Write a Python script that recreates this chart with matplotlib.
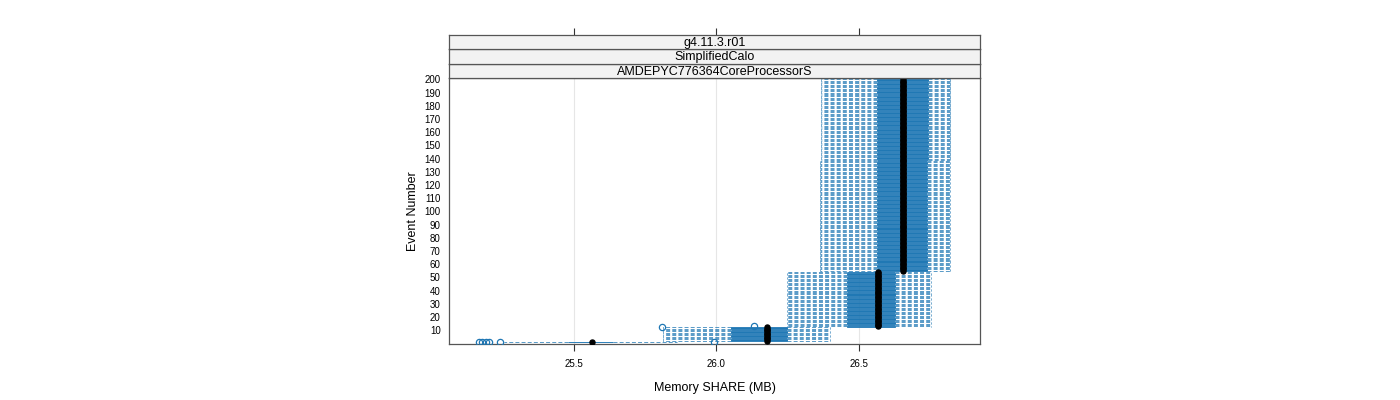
import matplotlib.pyplot as plt
from matplotlib.collections import LineCollection
from matplotlib.patches import Rectangle

plt.rcParams['font.family'] = ['Liberation Sans', 'DejaVu Sans']

# one row per run of events that share the same box statistics
group_first = [1, 2, 13, 55, 139]
group_last = [1, 12, 54, 138, 200]
whisk_lo = [25.255, 25.813, 26.248, 26.362, 26.366]
box_lo = [25.479, 26.052, 26.459, 26.564, 26.564]
median = [25.563, 26.178, 26.567, 26.656, 26.656]
box_hi = [25.637, 26.248, 26.625, 26.739, 26.741]
whisk_hi = [25.860, 26.397, 26.754, 26.818, 26.818]

out_x = [25.165, 25.178, 25.190, 25.203, 25.240, 25.990, 25.810, 26.130]
out_y = [1, 1, 1, 1, 1, 1, 12, 13]

xticks = [25.5, 26.0, 26.5]
yticks = list(range(10, 201, 10))
strips = ['g4.11.3.r01', 'SimplifiedCalo', 'AMDEPYC776364CoreProcessorS']

blue = '#1f77b4'
W, H = 1400, 400
fig = plt.figure(figsize=(14, 4), dpi=100)

px0, px1, py0, py1 = 449, 980, 78, 344
ax = fig.add_axes([px0 / W, 1 - py1 / H, (px1 - px0) / W, (py1 - py0) / H])
xlim = (25.061, 26.925)
ax.set_xlim(xlim)
ax.set_ylim(-0.5, 201)

for x in xticks:
    ax.axvline(x, color='#e6e6e6', lw=0.8, zorder=0)

whisk_segs, cap_segs = [], []
med_x, med_y = [], []
for g in range(len(group_first)):
    for ev in range(group_first[g], group_last[g] + 1):
        ax.add_patch(Rectangle((box_lo[g], ev - 0.25), box_hi[g] - box_lo[g], 0.5,
                               fill=False, edgecolor=blue, lw=0.65, zorder=2))
        whisk_segs.append([(box_lo[g], ev), (whisk_lo[g], ev)])
        whisk_segs.append([(box_hi[g], ev), (whisk_hi[g], ev)])
        cap_segs.append([(whisk_lo[g], ev - 0.25), (whisk_lo[g], ev + 0.25)])
        cap_segs.append([(whisk_hi[g], ev - 0.25), (whisk_hi[g], ev + 0.25)])
        med_x.append(median[g])
        med_y.append(ev)

ax.add_collection(LineCollection(whisk_segs, colors=blue, linewidths=0.65, alpha=0.8,
                                 linestyles=(0, (4.4, 2.4)), zorder=2))
ax.add_collection(LineCollection(cap_segs, colors=blue, linewidths=0.65, alpha=0.8,
                                 linestyles=(0, (4.4, 2.4)), zorder=2))
ax.plot(med_x, med_y, 'o', color='black', ms=3.6, mec='black', zorder=4)
ax.plot(out_x, out_y, 'o', mfc='none', mec=blue, ms=4.5, mew=0.9, zorder=3)

ax.set_xticks(xticks)
ax.set_xticklabels(['25.5', '26.0', '26.5'])
ax.set_yticks(yticks)
ax.tick_params(axis='x', length=5, width=0.8, labelsize=7, pad=6, color='#333333')
ax.tick_params(axis='y', length=0, labelsize=7, pad=6)
for s in ax.spines.values():
    s.set_color('#555555')
    s.set_linewidth(0.9)
ax.set_xlabel('Memory SHARE (MB)', fontsize=9, labelpad=9)
ax.set_ylabel('Event Number', fontsize=9, labelpad=4)

# strips, bottom to top
strip_top = [64, 49, 35]
strip_bot = [78, 64, 49]
for i, label in enumerate(reversed(strips)):
    sax = fig.add_axes([px0 / W, 1 - strip_bot[i] / H, (px1 - px0) / W,
                        (strip_bot[i] - strip_top[i]) / H])
    sax.set_facecolor('#f2f2f2')
    sax.set_xlim(xlim)
    sax.set_yticks([])
    for s in sax.spines.values():
        s.set_color('#555555')
        s.set_linewidth(0.9)
    sax.text(0.5, 0.45, label, transform=sax.transAxes, ha='center', va='center', fontsize=9)
    if i == len(strips) - 1:
        sax.xaxis.tick_top()
        sax.set_xticks(xticks)
        sax.set_xticklabels([])
        sax.tick_params(axis='x', length=5, width=0.8, color='#333333')
    else:
        sax.set_xticks([])

fig.savefig('out.png', dpi=100)
